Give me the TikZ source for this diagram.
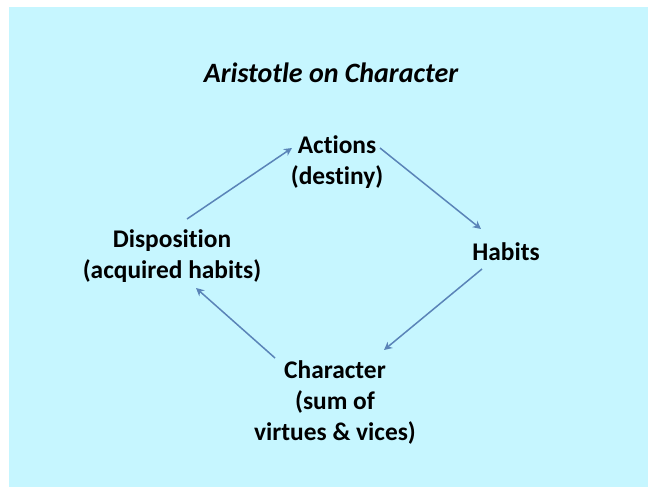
\documentclass[tikz,border=0pt]{standalone}
\usepackage{fontspec}
\setmainfont{Carlito}[Ligatures={NoCommon}]
\usetikzlibrary{arrows.meta}
\definecolor{bgc}{HTML}{C6F6FF}
\definecolor{arrc}{HTML}{5A84B8}
\tikzset{
  lbl/.style={inner sep=0pt, align=center, font=\fontsize{25.4}{31}\selectfont\bfseries, text=black},
  arr/.style={draw=arrc, line width=1.5pt, -{Stealth[length=8pt,width=8pt,inset=2.5pt]}}
}
\begin{document}
\begin{tikzpicture}[x=1pt,y=1pt]
\useasboundingbox (0,0) rectangle (648,487);
\fill[bgc] (9,0) rectangle (648,480);
\node[inner sep=0pt, font=\fontsize{28}{34}\selectfont\bfseries\itshape] (title) at (331,414) {Aristotle on Character};
\node[lbl] (act) at (337,325) {Actions\\(destiny)};
\node[lbl] (hab) at (506,235) {Habits};
\node[lbl] (disp) at (172,231) {Disposition\\(acquired habits)};
\node[lbl] (char) at (335,84) {Character\\(sum of\\virtues \& vices)};
\draw[arr] ([shift={(15,37)}]disp.center) -- ([shift={(-45,14)}]act.center);
\draw[arr] ([shift={(43,14)}]act.center) -- ([shift={(-25,23)}]hab.center);
\draw[arr] ([shift={(-24,-17)}]hab.center) -- ([shift={(49,53)}]char.center);
\draw[arr] ([shift={(-60,45)}]char.center) -- ([shift={(24,-32)}]disp.center);
\end{tikzpicture}
\end{document}
